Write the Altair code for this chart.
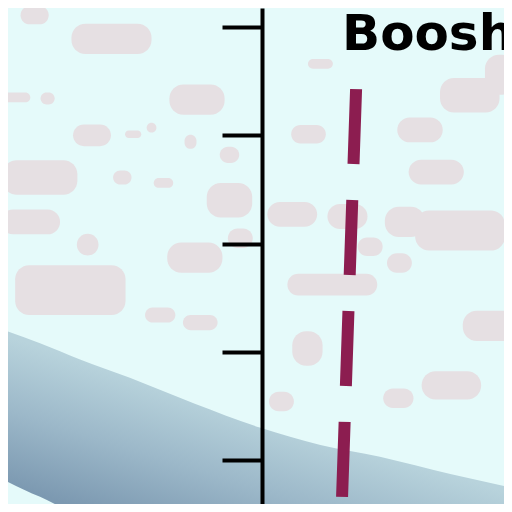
import altair as alt
import pandas as pd

# map units: one unit = one tick step on the vertical axis, x = 0 on the axis line

# shaded band in the lower part (upper and lower edge)
band_x = [-2.35, -2.05, -1.68, -1.22, -0.62, -0.02, 0.54, 1.09, 1.74, 2.24]
band_top = [1.19, 1.08, 0.93, 0.76, 0.52, 0.30, 0.14, 0.03, -0.13, -0.24]
band_bottom = [-0.20, -0.34, -0.48, -0.48, -0.48, -0.48, -0.48, -0.48, -0.48, -0.48]

# dashed boundary, lower end then upper end
line_x = [0.74, 0.87]
line_y = [-0.34, 3.44]

# ticks on the vertical axis
tick_values = [0, 1, 2, 3, 4]

# place label
label_text = ["Booshehr"]
label_x = [0.74]
label_y = [3.79]

# pale land patches: centre and extent
blob_x = [-2.10, -1.39, -2.28, -1.98, -0.60, -1.57, -1.19, -1.02, -0.66, -0.30,
          -2.05, -1.29, -0.91, -0.30, -2.14, -1.61, -0.62, -0.20, -1.77, -0.94,
          -0.57, 0.54, 0.43, 1.92, 1.46, 2.20, 1.61, 0.28, 0.79, 1.32,
          1.83, 1.27, 0.65, 1.00, 2.11, 0.42, 1.75, 1.26, 0.18]
blob_y = [4.11, 3.89, 3.35, 3.34, 3.33, 3.00, 3.01, 3.07, 2.94, 2.82,
          2.61, 2.61, 2.56, 2.40, 2.20, 1.99, 1.87, 2.05, 1.57, 1.34,
          1.27, 3.66, 3.01, 3.37, 3.05, 3.56, 2.66, 2.27, 2.25, 2.20,
          2.12, 1.82, 1.62, 1.97, 1.24, 1.03, 0.69, 0.57, 0.54]
blob_w = [0.26, 0.74, 0.28, 0.13, 0.51, 0.35, 0.15, 0.09, 0.11, 0.18,
          0.69, 0.17, 0.18, 0.42, 0.55, 0.20, 0.51, 0.23, 1.02, 0.28,
          0.32, 0.23, 0.32, 0.55, 0.42, 0.28, 0.51, 0.46, 0.37, 0.37,
          0.83, 0.23, 0.83, 0.23, 0.51, 0.28, 0.55, 0.28, 0.23]
blob_h = [0.17, 0.28, 0.09, 0.11, 0.28, 0.20, 0.07, 0.09, 0.13, 0.15,
          0.32, 0.13, 0.09, 0.32, 0.23, 0.20, 0.28, 0.18, 0.46, 0.14,
          0.14, 0.09, 0.17, 0.32, 0.23, 0.37, 0.23, 0.23, 0.23, 0.28,
          0.37, 0.18, 0.20, 0.17, 0.28, 0.32, 0.26, 0.18, 0.18]

band = pd.DataFrame({"x": band_x, "top": band_top, "bottom": band_bottom})
boundary = pd.DataFrame({"x": line_x, "y": line_y})
labels = pd.DataFrame({"x": label_x, "y": label_y, "text": label_text})
blobs = pd.DataFrame({"cx": blob_x, "cy": blob_y, "w": blob_w, "h": blob_h})

xscale = alt.Scale(domain=[-2.346, 2.236], nice=False, zero=False)
yscale = alt.Scale(domain=[-0.406, 4.176], nice=False, zero=False)

y_axis = alt.Axis(
    values=tick_values, labels=False, title=None, grid=False,
    tickSize=40, tickWidth=4, tickColor="black",
    domainWidth=4, domainColor="black",
    offset=-254, zindex=1,
)

blob_layer = alt.Chart(blobs).transform_calculate(
    x1="datum.cx - datum.w / 2", x2="datum.cx + datum.w / 2",
    y1="datum.cy - datum.h / 2", y2="datum.cy + datum.h / 2",
).mark_rect(color="#e6e0e3", cornerRadius=14, clip=True).encode(
    alt.X("x1:Q", scale=xscale, axis=None),
    alt.X2("x2:Q"),
    alt.Y("y1:Q", scale=yscale, axis=y_axis),
    alt.Y2("y2:Q"),
)

band_layer = alt.Chart(band).mark_area(
    interpolate="monotone",
    clip=True,
    color=alt.Gradient(
        gradient="linear",
        stops=[
            alt.GradientStop(color="#b8d3dc", offset=0),
            alt.GradientStop(color="#9cb8c9", offset=0.5),
            alt.GradientStop(color="#7c99b1", offset=1),
        ],
        x1=0.5, y1=0.458, x2=0.095, y2=0.931,
    ),
).encode(
    alt.X("x:Q", scale=xscale, axis=None),
    alt.Y("top:Q", scale=yscale, axis=y_axis),
    alt.Y2("bottom:Q"),
)

line_layer = alt.Chart(boundary).mark_line(
    color="#8c1d50", strokeWidth=12, strokeDash=[75, 36], strokeCap="butt"
).encode(
    alt.X("x:Q", scale=xscale, axis=None),
    alt.Y("y:Q", scale=yscale, axis=y_axis),
)

text_layer = alt.Chart(labels).mark_text(
    align="left", baseline="alphabetic", font="DejaVu Sans",
    fontWeight="bold", fontSize=50, color="black", clip=True
).encode(
    alt.X("x:Q", scale=xscale, axis=None),
    alt.Y("y:Q", scale=yscale, axis=y_axis),
    text="text:N",
)

chart = alt.layer(blob_layer, band_layer, line_layer, text_layer).properties(
    width=496, height=496, padding=0, background="#e5fafa",
    autosize=alt.AutoSizeParams(type="none"),
).configure_view(stroke=None, fill="#e5fafa")

chart.save("out.html", embed_options={"renderer": "svg", "actions": False})
